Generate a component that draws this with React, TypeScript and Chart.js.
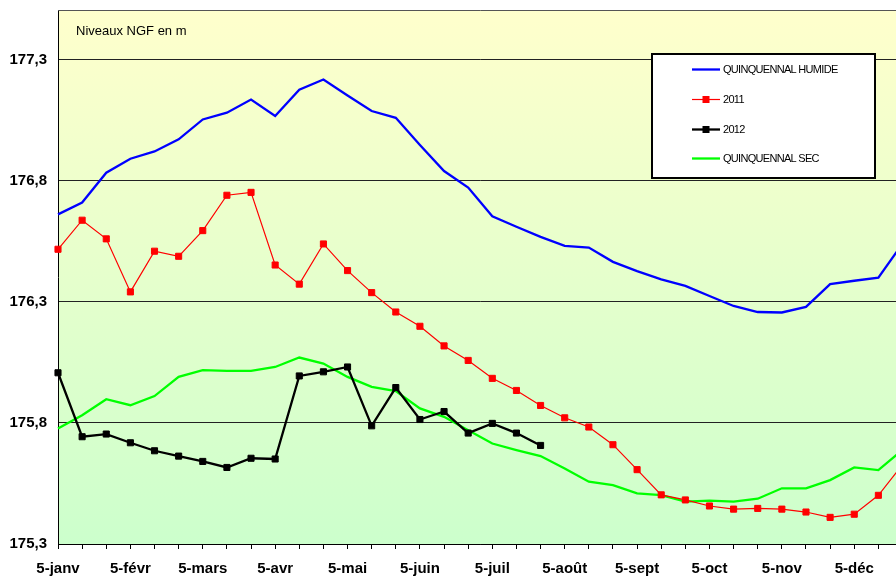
import React, { useEffect, useRef } from 'react';
import { Chart, registerables } from 'chart.js';

Chart.register(...registerables);

const months = ['janv', 'févr', 'mars', 'avr', 'mai', 'juin', 'juil', 'août', 'sept', 'oct', 'nov', 'déc'];
const days = [5, 15, 25];
const categories = months.flatMap((m) => days.map((d) => `${d}-${m}`));

const yTicks = [175.3, 175.8, 176.3, 176.8, 177.3];
const yMin = 175.3;
const yMax = 177.505;

const quinquennalHumide = [
  176.661, 176.71, 176.833, 176.891, 176.921, 176.971, 177.053, 177.081, 177.135, 177.067,
  177.176, 177.218, 177.152, 177.088, 177.06, 176.948, 176.84, 176.772, 176.653, 176.61,
  176.568, 176.531, 176.524, 176.465, 176.427, 176.393, 176.366, 176.324, 176.283, 176.258,
  176.256, 176.279, 176.373, 176.387, 176.4, 176.54,
];

const serie2011 = [
  176.517, 176.637, 176.56, 176.341, 176.509, 176.488, 176.594, 176.74, 176.752, 176.452,
  176.373, 176.539, 176.429, 176.338, 176.258, 176.199, 176.118, 176.058, 175.984, 175.934,
  175.872, 175.821, 175.783, 175.71, 175.607, 175.503, 175.482, 175.457, 175.444, 175.447,
  175.444, 175.432, 175.41, 175.423, 175.501, 175.628,
];

const serie2012 = [
  176.007, 175.743, 175.754, 175.718, 175.685, 175.663, 175.641, 175.616, 175.654, 175.651,
  175.994, 176.011, 176.031, 175.788, 175.946, 175.814, 175.847, 175.758, 175.798, 175.758,
  175.707, null, null, null, null, null, null, null, null, null,
  null, null, null, null, null, null,
];

const quinquennalSec = [
  175.777, 175.832, 175.898, 175.873, 175.911, 175.99, 176.018, 176.015, 176.015, 176.031,
  176.07, 176.045, 175.99, 175.949, 175.931, 175.86, 175.825, 175.77, 175.715, 175.688,
  175.663, 175.612, 175.557, 175.543, 175.509, 175.502, 175.475, 175.479, 175.475, 175.487,
  175.53, 175.53, 175.564, 175.616, 175.605, 175.689,
];

const legendLabels = ['QUINQUENNAL HUMIDE', '2011', '2012', 'QUINQUENNAL SEC'];
const unitLabel = 'Niveaux NGF en m';

const FONT = 'Arial, "Liberation Sans", sans-serif';

const decorPlugin = {
  id: 'decor',
  beforeDraw(chart: any) {
    const { ctx, chartArea, width, height } = chart;
    ctx.save();
    ctx.fillStyle = '#ffffff';
    ctx.fillRect(0, 0, width, height);
    const g = ctx.createLinearGradient(0, chartArea.top, 0, chartArea.bottom);
    g.addColorStop(0, '#FFFFCC');
    g.addColorStop(1, '#CCFFCC');
    ctx.fillStyle = g;
    ctx.fillRect(chartArea.left, chartArea.top, chartArea.right - chartArea.left, chartArea.bottom - chartArea.top);
    ctx.restore();
  },
  afterDraw(chart: any) {
    const { ctx, chartArea } = chart;
    ctx.save();
    // top border of plot
    ctx.strokeStyle = '#555';
    ctx.lineWidth = 1;
    ctx.beginPath();
    ctx.moveTo(chartArea.left, Math.round(chartArea.top) + 0.5);
    ctx.lineTo(chartArea.right, Math.round(chartArea.top) + 0.5);
    ctx.stroke();

    // unit label
    ctx.fillStyle = '#000';
    ctx.font = `13px ${FONT}`;
    ctx.textBaseline = 'middle';
    ctx.textAlign = 'left';
    ctx.fillText(unitLabel, 76, 31);

    // legend box
    const bx = 652, by = 54, bw = 223, bh = 124;
    ctx.fillStyle = '#fff';
    ctx.fillRect(bx, by, bw, bh);
    ctx.strokeStyle = '#000';
    ctx.lineWidth = 2;
    ctx.strokeRect(bx, by, bw, bh);

    const ds = chart.data.datasets;
    const rows = [69, 99, 129, 158];
    ds.forEach((d: any, i: number) => {
      const y = rows[i];
      ctx.strokeStyle = d.borderColor;
      ctx.lineWidth = d.borderWidth;
      ctx.beginPath();
      ctx.moveTo(692, y + 0.5);
      ctx.lineTo(720, y + 0.5);
      ctx.stroke();
      if (d.pointRadius > 0) {
        ctx.fillStyle = d.pointBackgroundColor;
        ctx.fillRect(702.5, y - 3, 7, 7);
      }
      ctx.fillStyle = '#000';
      ctx.font = `11px ${FONT}`;
      (ctx as any).letterSpacing = '-0.7px';
      ctx.textBaseline = 'middle';
      ctx.fillText(legendLabels[i], 723, y + 1);
      (ctx as any).letterSpacing = '0px';
    });
    ctx.restore();
  },
};

export default function App() {
  const ref = useRef<HTMLCanvasElement | null>(null);

  useEffect(() => {
    if (!ref.current) return;
    const chart = new Chart(ref.current, {
      type: 'line',
      data: {
        labels: categories,
        datasets: [
          {
            label: legendLabels[0],
            data: quinquennalHumide,
            borderColor: '#0000FF',
            backgroundColor: '#0000FF',
            borderWidth: 2.3,
            pointRadius: 0,
            tension: 0,
          },
          {
            label: legendLabels[1],
            data: serie2011,
            borderColor: '#FF0000',
            backgroundColor: '#FF0000',
            pointBackgroundColor: '#FF0000',
            pointBorderColor: '#FF0000',
            borderWidth: 1.2,
            pointStyle: 'rect',
            pointRadius: 4.3,
            pointBorderWidth: 1,
            tension: 0,
          },
          {
            label: legendLabels[2],
            data: serie2012,
            borderColor: '#000000',
            backgroundColor: '#000000',
            pointBackgroundColor: '#000000',
            pointBorderColor: '#000000',
            borderWidth: 2.3,
            pointStyle: 'rect',
            pointRadius: 4.3,
            pointBorderWidth: 1,
            tension: 0,
          },
          {
            label: legendLabels[3],
            data: quinquennalSec,
            borderColor: '#00FF00',
            backgroundColor: '#00FF00',
            borderWidth: 2.3,
            pointRadius: 0,
            tension: 0,
          },
        ],
      },
      options: {
        responsive: false,
        animation: false,
        devicePixelRatio: 1,
        layout: { padding: { left: 0, top: 10, right: 17.5, bottom: 0 } },
        plugins: {
          legend: { display: false },
          tooltip: { enabled: false },
          title: { display: false },
        },
        scales: {
          x: {
            type: 'category',
            offset: false,
            grid: { drawOnChartArea: false, drawTicks: true, tickLength: 5, color: '#000' },
            border: { display: true, color: '#000', width: 1 },
            ticks: {
              autoSkip: false,
              maxRotation: 0,
              minRotation: 0,
              padding: 11,
              color: '#000',
              font: { family: FONT, size: 15, weight: 'bold' },
              callback: (_v: any, i: number) => (i % 3 === 0 ? categories[i] : ''),
            },
            afterFit: (s: any) => {
              s.height = 32;
            },
          },
          y: {
            min: yMin,
            max: yMax,
            grid: { color: '#222', drawTicks: false, lineWidth: 1 },
            border: { display: true, color: '#000', width: 1 },
            ticks: {
              padding: 11,
              color: '#000',
              font: { family: FONT, size: 15, weight: 'bold' },
              callback: (v: any) => Number(v).toFixed(1).replace('.', ','),
            },
            afterBuildTicks: (s: any) => {
              s.ticks = yTicks.map((v) => ({ value: v }));
            },
            afterFit: (s: any) => {
              s.width = 58;
              s.paddingTop = 0;
              s.paddingBottom = 0;
            },
          },
        },
      } as any,
      plugins: [decorPlugin],
    });
    return () => chart.destroy();
  }, []);

  return (
    <div
      style={{
        position: 'fixed',
        left: 0,
        top: 0,
        width: 896,
        height: 576,
        overflow: 'hidden',
        background: '#fff',
      }}
    >
      <canvas ref={ref} width={920} height={576} style={{ display: 'block', width: 920, height: 576 }} />
    </div>
  );
}
